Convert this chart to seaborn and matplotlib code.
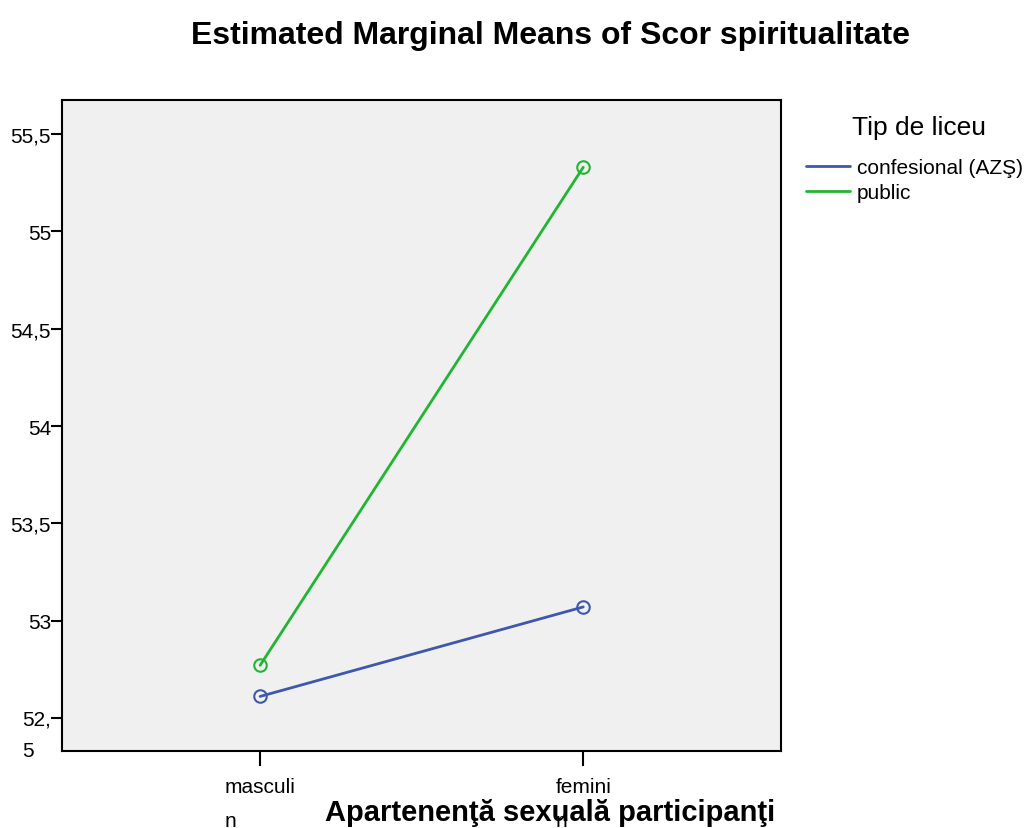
import pandas as pd
import numpy as np
import matplotlib
matplotlib.use('Agg')
import matplotlib.pyplot as plt
from matplotlib.lines import Line2D
from matplotlib.transforms import ScaledTranslation
import seaborn as sns
sns.set_style('ticks', {'axes.edgecolor': 'black', 'text.color': 'black',
                        'xtick.color': 'black', 'ytick.color': 'black',
                        'axes.labelcolor': 'black'})
plt.rcParams['font.family'] = ['Liberation Sans', 'DejaVu Sans']

# values
sex = ['masculin', 'feminin']
sex_ticks = ['masculi\nn', 'femini\nn']
school = ['confesional (AZŞ)', 'public']
means_conf = [52.61, 53.07]
means_public = [52.77, 55.33]
yticks = [52.5, 53, 53.5, 54, 54.5, 55, 55.5]
ytick_labels = ['52,\n5', '53', '53,5', '54', '54,5', '55', '55,5']
colors = ['#3e58ac', '#21b532']

df = pd.DataFrame({
    'sex': sex * 2,
    'school': [school[0]] * 2 + [school[1]] * 2,
    'score': means_conf + means_public,
})

fig = plt.figure(figsize=(10.29, 8.29), dpi=100)
ax = fig.add_axes([0.0603, 0.093, 0.699, 0.785])
ax.set_facecolor('#f0f0f0')

sns.lineplot(data=df, x='sex', y='score', hue='school', hue_order=school,
             palette=colors, marker='o', markersize=9, markerfacecolor='none',
             markeredgewidth=1.5, linewidth=2, sort=False, legend=False, ax=ax)
# marker edges follow line colour
for ln in ax.get_lines():
    ln.set_markeredgecolor(ln.get_color())

ax.set_xlim(-0.613, 1.613)
ax.set_ylim(52.33, 55.675)
ax.set_xticks([0, 1])
ax.set_xticklabels(sex_ticks, fontsize=15, linespacing=2.0)
ax.set_yticks(yticks)
ax.set_yticklabels(ytick_labels, fontsize=15, linespacing=1.8)
ax.tick_params(axis='x', bottom=True, length=11, width=1.5, pad=8)
ax.tick_params(axis='y', left=True, length=8, width=1.5, pad=0)
for lbl in ax.get_xticklabels() + ax.get_yticklabels():
    lbl.set_multialignment('left')
# wrapped bottom label: first line sits on the tick
first = ax.get_yticklabels()[0]
first.set_transform(first.get_transform() +
                    ScaledTranslation(0, -0.09, fig.dpi_scale_trans))
for sp in ax.spines.values():
    sp.set_color('black')
    sp.set_linewidth(1.5)

ax.set_xlabel('Apartenenţă sexuală participanţi', fontsize=21,
              fontweight='bold')
ax.xaxis.set_label_coords(0.679, -0.072)
ax.set_ylabel('')
fig.suptitle('Estimated Marginal Means of Scor spiritualitate', fontsize=23,
             fontweight='bold', x=0.535, y=0.975)

fig.text(919 / 1029, 1 - 128 / 829, 'Tip de liceu', ha='center', va='center',
         fontsize=19)
handles = [Line2D([], [], color=c, linewidth=2) for c in colors]
leg = fig.legend(handles, school, loc='upper left',
                 bbox_to_anchor=(0.7833, 0.808), frameon=False, fontsize=15,
                 handlelength=2.1, handletextpad=0.33, labelspacing=0.3,
                 borderpad=0, borderaxespad=0)

fig.savefig('out.png', dpi=100)
